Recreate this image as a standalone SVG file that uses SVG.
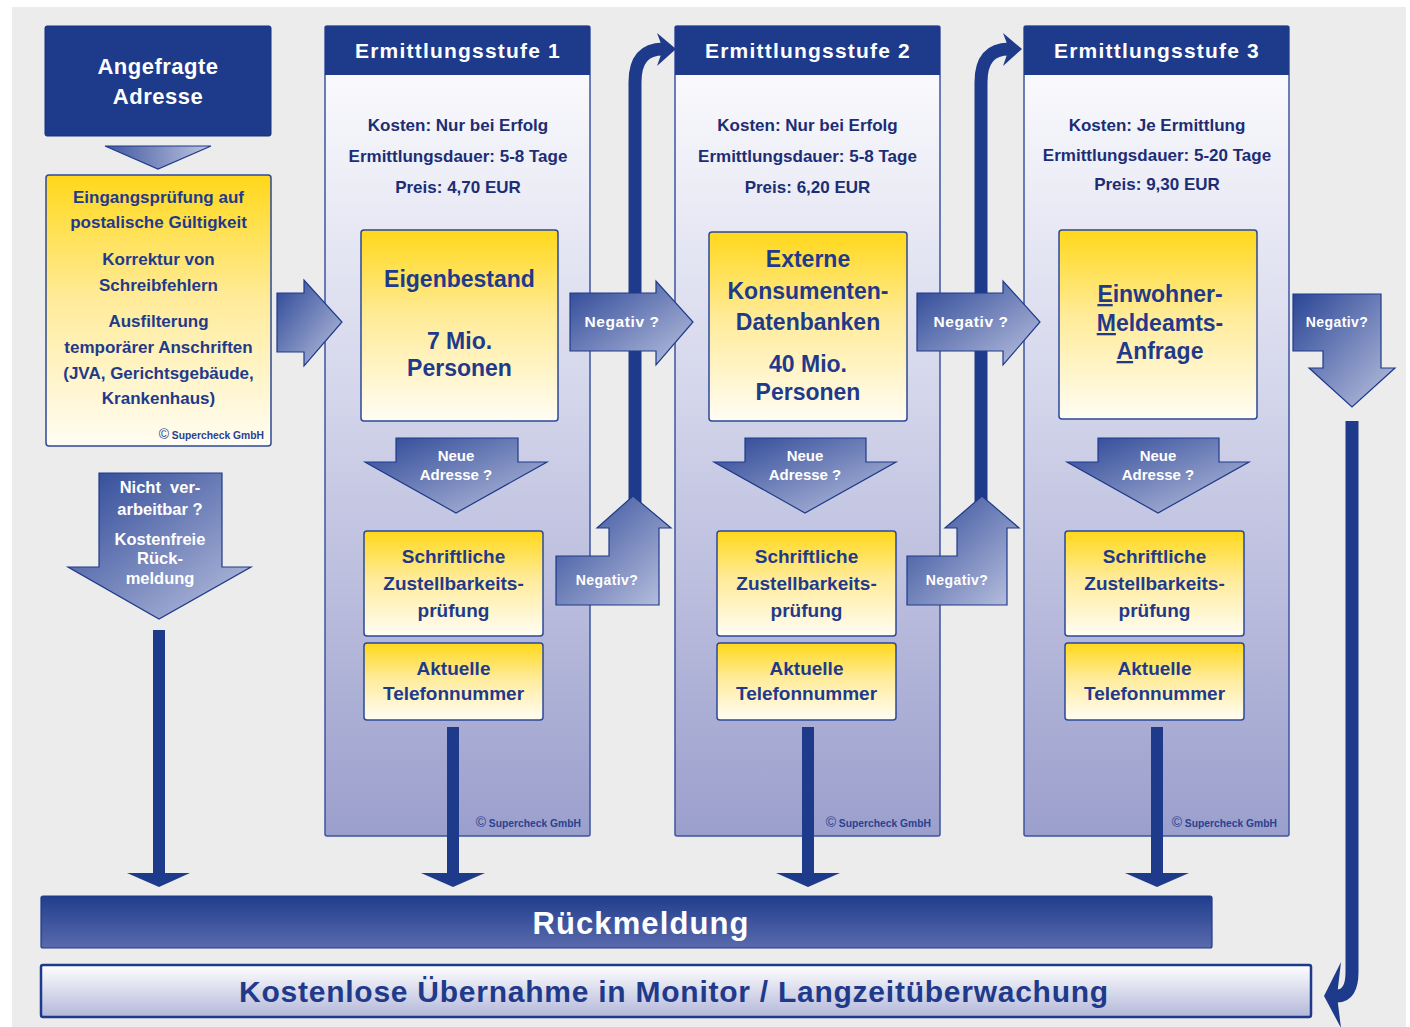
<svg xmlns="http://www.w3.org/2000/svg" width="1410" height="1027" viewBox="0 0 1410 1027">
<defs>
<linearGradient id="stageG" x1="0" y1="0" x2="0" y2="1">
<stop offset="0" stop-color="#ffffff"/>
<stop offset="0.45" stop-color="#d4d6eb"/>
<stop offset="1" stop-color="#9b9fcc"/>
</linearGradient>
<linearGradient id="yel" x1="0" y1="0" x2="0" y2="1">
<stop offset="0" stop-color="#ffd81a"/>
<stop offset="0.45" stop-color="#ffeb98"/>
<stop offset="1" stop-color="#fffdf4"/>
</linearGradient>
<linearGradient id="arr" x1="0" y1="0" x2="1" y2="1">
<stop offset="0" stop-color="#2b4696"/>
<stop offset="1" stop-color="#bcc3e0"/>
</linearGradient>
<linearGradient id="tri" x1="0" y1="0" x2="1" y2="0">
<stop offset="0" stop-color="#3f56a0"/>
<stop offset="1" stop-color="#bfc6e1"/>
</linearGradient>
<linearGradient id="rueck" x1="0" y1="0" x2="0" y2="1">
<stop offset="0" stop-color="#203e8d"/>
<stop offset="1" stop-color="#5a6aad"/>
</linearGradient>
<linearGradient id="kost" x1="0" y1="0" x2="0" y2="1">
<stop offset="0" stop-color="#ffffff"/>
<stop offset="1" stop-color="#b3b7d9"/>
</linearGradient>
</defs>
<style>
text { font-family: "Liberation Sans", Arial, sans-serif; font-weight: bold; text-anchor: middle; }
.w { fill: #ffffff; }
.b { fill: #1f3a8a; }
.n { fill: #1c2d74; font-size: 17px; }
.hd { fill: #ffffff; font-size: 21px; letter-spacing: 1.2px; }
.big { fill: #1f3a8a; font-size: 23px; }
.mid { fill: #1f3a8a; font-size: 19px; }
.yl { fill: #1f3a8a; font-size: 17px; }
.cp { fill: #2a4190; font-size: 10.3px; text-anchor: end; }
.cpc { font-size: 14px; font-weight: normal; }
.stage { fill: url(#stageG); stroke: #3e54a0; stroke-width: 1.5; }
.head { fill: #1e3a8a; }
.ybox { fill: url(#yel); stroke: #2d4896; stroke-width: 1.5; }
.barrow { fill: url(#arr); stroke: #1e3a8a; stroke-width: 1.2; stroke-linejoin: miter; }
.line { fill: #1e3a8a; }
.curve { fill: none; stroke: #1e3a8a; stroke-width: 13; }
.neg { fill: #ffffff; font-size: 15.5px; letter-spacing: 0.6px; }
.neg2 { fill: #ffffff; font-size: 14px; letter-spacing: 0.4px; }
.na { fill: #ffffff; font-size: 15px; }
</style>

<rect x="12" y="7" width="1394" height="1020" fill="#ececec"/>

<!-- Left column -->
<g id="angefragte-adresse">
<rect x="45" y="26" width="226" height="110" rx="2" fill="#1e3a8a" stroke="#16307c" stroke-width="1"/>
<text class="w" x="158" y="74" font-size="22" letter-spacing="0.5">Angefragte</text>
<text class="w" x="158" y="104" font-size="22" letter-spacing="0.5">Adresse</text>
</g>

<g id="eingangspruefung">
<rect x="46" y="175" width="225" height="271" rx="3" class="ybox"/>
<text class="yl" x="158.5" y="203">Eingangsprüfung auf</text>
<text class="yl" x="158.5" y="228">postalische Gültigkeit</text>
<text class="yl" x="158.5" y="265">Korrektur von</text>
<text class="yl" x="158.5" y="291">Schreibfehlern</text>
<text class="yl" x="158.5" y="327">Ausfilterung</text>
<text class="yl" x="158.5" y="353">temporärer Anschriften</text>
<text class="yl" x="158.5" y="379">(JVA, Gerichtsgebäude,</text>
<text class="yl" x="158.5" y="404">Krankenhaus)</text>
<text class="cp" x="264" y="439"><tspan class="cpc">©</tspan> Supercheck GmbH</text>
</g>

<!-- Stage 1 -->
<g id="stufe1">
<rect x="325" y="26" width="265" height="810" rx="2" class="stage"/>
<rect x="325" y="26" width="265" height="49" class="head"/>
<text class="hd" x="458" y="58">Ermittlungsstufe 1</text>
<text class="n" x="458" y="131">Kosten: Nur bei Erfolg</text>
<text class="n" x="458" y="162">Ermittlungsdauer: 5-8 Tage</text>
<text class="n" x="458" y="193">Preis: 4,70 EUR</text>
<text class="cp" x="581" y="827"><tspan class="cpc">©</tspan> Supercheck GmbH</text>
</g>
<g id="eigenbestand">
<rect x="361" y="230" width="197" height="191" rx="3" class="ybox"/>
<text class="big" x="459.5" y="287">Eigenbestand</text>
<text class="big" x="459.5" y="349">7 Mio.</text>
<text class="big" x="459.5" y="376">Personen</text>
</g>
<g id="neue-adresse-1">
<path class="barrow" d="M396,438 H518 V462 H547 L456,513 L365,462 H396 Z"/>
<text class="na" x="456" y="461">Neue</text>
<text class="na" x="456" y="480">Adresse ?</text>
</g>
<g id="zustell-1">
<rect x="364" y="531" width="179" height="105" rx="3" class="ybox"/>
<text class="mid" x="453.5" y="563">Schriftliche</text>
<text class="mid" x="453.5" y="590">Zustellbarkeits-</text>
<text class="mid" x="453.5" y="617">prüfung</text>
</g>
<g id="telefon-1">
<rect x="364" y="643" width="179" height="77" rx="3" class="ybox"/>
<text class="mid" x="453.5" y="675">Aktuelle</text>
<text class="mid" x="453.5" y="700">Telefonnummer</text>
</g>

<!-- Stage 2 -->
<g id="stufe2">
<rect x="675" y="26" width="265" height="810" rx="2" class="stage"/>
<rect x="675" y="26" width="265" height="49" class="head"/>
<text class="hd" x="808" y="58">Ermittlungsstufe 2</text>
<text class="n" x="807.5" y="131">Kosten: Nur bei Erfolg</text>
<text class="n" x="807.5" y="162">Ermittlungsdauer: 5-8 Tage</text>
<text class="n" x="807.5" y="193">Preis: 6,20 EUR</text>
<text class="cp" x="931" y="827"><tspan class="cpc">©</tspan> Supercheck GmbH</text>
</g>
<g id="externe-datenbanken">
<rect x="709" y="232" width="198" height="189" rx="3" class="ybox"/>
<text class="big" x="808" y="267">Externe</text>
<text class="big" x="808" y="299">Konsumenten-</text>
<text class="big" x="808" y="330">Datenbanken</text>
<text class="big" x="808" y="372">40 Mio.</text>
<text class="big" x="808" y="400">Personen</text>
</g>
<g id="neue-adresse-2">
<path class="barrow" d="M745,438 H866 V462 H896 L805,513 L714,462 H745 Z"/>
<text class="na" x="805" y="461">Neue</text>
<text class="na" x="805" y="480">Adresse ?</text>
</g>
<g id="zustell-2">
<rect x="717" y="531" width="179" height="105" rx="3" class="ybox"/>
<text class="mid" x="806.5" y="563">Schriftliche</text>
<text class="mid" x="806.5" y="590">Zustellbarkeits-</text>
<text class="mid" x="806.5" y="617">prüfung</text>
</g>
<g id="telefon-2">
<rect x="717" y="643" width="179" height="77" rx="3" class="ybox"/>
<text class="mid" x="806.5" y="675">Aktuelle</text>
<text class="mid" x="806.5" y="700">Telefonnummer</text>
</g>

<!-- Stage 3 -->
<g id="stufe3">
<rect x="1024" y="26" width="265" height="810" rx="2" class="stage"/>
<rect x="1024" y="26" width="265" height="49" class="head"/>
<text class="hd" x="1157" y="58">Ermittlungsstufe 3</text>
<text class="n" x="1157" y="131">Kosten: Je Ermittlung</text>
<text class="n" x="1157" y="161">Ermittlungsdauer: 5-20 Tage</text>
<text class="n" x="1157" y="190">Preis: 9,30 EUR</text>
<text class="cp" x="1277" y="827"><tspan class="cpc">©</tspan> Supercheck GmbH</text>
</g>
<g id="einwohnermeldeamt">
<rect x="1059" y="230" width="198" height="189" rx="3" class="ybox"/>
<text class="big" x="1160" y="302"><tspan text-decoration="underline">E</tspan>inwohner-</text>
<text class="big" x="1160" y="331"><tspan text-decoration="underline">M</tspan>eldeamts-</text>
<text class="big" x="1160" y="359"><tspan text-decoration="underline">A</tspan>nfrage</text>
</g>
<g id="neue-adresse-3">
<path class="barrow" d="M1098,438 H1219 V462 H1249 L1158,513 L1067,462 H1098 Z"/>
<text class="na" x="1158" y="461">Neue</text>
<text class="na" x="1158" y="480">Adresse ?</text>
</g>
<g id="zustell-3">
<rect x="1065" y="531" width="179" height="105" rx="3" class="ybox"/>
<text class="mid" x="1154.5" y="563">Schriftliche</text>
<text class="mid" x="1154.5" y="590">Zustellbarkeits-</text>
<text class="mid" x="1154.5" y="617">prüfung</text>
</g>
<g id="telefon-3">
<rect x="1065" y="643" width="179" height="77" rx="3" class="ybox"/>
<text class="mid" x="1154.5" y="675">Aktuelle</text>
<text class="mid" x="1154.5" y="700">Telefonnummer</text>
</g>

<!-- Bottom bars -->
<g id="rueckmeldung">
<rect x="41" y="896" width="1171" height="52" rx="2" fill="url(#rueck)" stroke="#1e3a8a" stroke-width="1.2"/>
<text class="w" x="641" y="934" font-size="31" letter-spacing="1.1">Rückmeldung</text>
</g>
<g id="monitor">
<rect x="41" y="965" width="1270" height="52" rx="2" fill="url(#kost)" stroke="#1e3a8a" stroke-width="2.5"/>
<text class="b" x="674" y="1002" font-size="30" letter-spacing="0.75">Kostenlose Übernahme in Monitor / Langzeitüberwachung</text>
</g>

<!-- Connectors -->
<g id="connectors">
<polygon points="105,146 211,146 158,169" fill="url(#tri)" stroke="#1e3a8a" stroke-width="1.2"/>
<path class="barrow" d="M277,293 H304 V280 L342,322 L304,366 V352 H277 Z"/>
<rect class="line" x="153" y="630" width="12" height="243"/>
<polygon class="line" points="127,873 190,873 159,887"/>
<rect class="line" x="447" y="727" width="12" height="146"/>
<polygon class="line" points="421,873 485,873 453,887"/>
<rect class="line" x="802" y="727" width="12" height="146"/>
<polygon class="line" points="776,873 840,873 808,887"/>
<rect class="line" x="1151" y="727" width="12" height="146"/>
<polygon class="line" points="1125,873 1189,873 1157,887"/>
<path class="curve" d="M635,512 V82 Q635,49 663,49"/>
<polygon class="line" points="676,49 657,33 663,49 657,66"/>
<path class="curve" d="M981,512 V82 Q981,49 1009,49"/>
<polygon class="line" points="1022,49 1003,33 1009,49 1003,66"/>
<path class="curve" stroke-width="12" d="M1352,421 V972 Q1352,996 1337,996"/>
<polygon class="line" points="1324,996 1341,962 1337,996 1341,1028"/>
</g>

<g id="nicht-verarbeitbar">
<path class="barrow" d="M99,473 H222 V567 H251 L159,619 L68,567 H99 Z"/>
<text class="w" x="160" y="493" font-size="16.5" xml:space="preserve">Nicht  ver-</text>
<text class="w" x="160" y="515" font-size="16.5">arbeitbar ?</text>
<text class="w" x="160" y="545" font-size="16.5">Kostenfreie</text>
<text class="w" x="160" y="564" font-size="16.5">Rück-</text>
<text class="w" x="160" y="584" font-size="16.5">meldung</text>
</g>
<g id="negativ-1-2">
<path class="barrow" d="M570,293 H656 V281 L693,322 L656,365 V351 H570 Z"/>
<text class="neg" x="622" y="327">Negativ ?</text>
</g>
<g id="negativ-2-3">
<path class="barrow" d="M917,293 H1003 V281 L1040,322 L1003,365 V351 H917 Z"/>
<text class="neg" x="971" y="327">Negativ ?</text>
</g>
<g id="negativ-up-1">
<path class="barrow" d="M556,556 H609 V528 H597 L633,496 L671,528 H659 V605 H556 Z"/>
<text class="neg2" x="607" y="585">Negativ?</text>
</g>
<g id="negativ-up-2">
<path class="barrow" d="M907,556 H957 V528 H945 L982,496 L1019,528 H1007 V605 H907 Z"/>
<text class="neg2" x="957" y="585">Negativ?</text>
</g>
<g id="negativ-3">
<path class="barrow" d="M1293,294 H1381 V368 H1395 L1352,407 L1309,368 H1323 V351 H1293 Z"/>
<text class="neg2" x="1337" y="327" font-size="15">Negativ?</text>
</g>
</svg>
